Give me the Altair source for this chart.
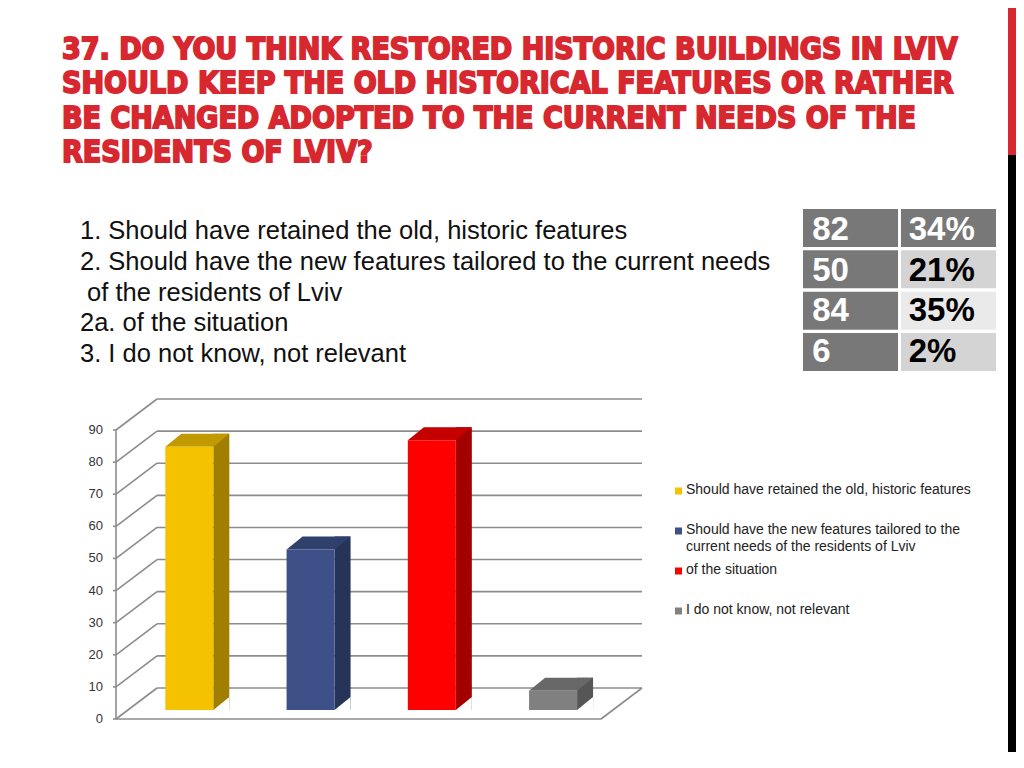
import altair as alt
import pandas as pd

# ---------------- data ----------------
categories = [
    "Should have retained the old, historic features",
    "Should have the new features tailored to the current needs of the residents of Lviv",
    "of the situation",
    "I do not know, not relevant",
]
legend_labels = [
    "Should have retained the old, historic features",
    "Should have the new features tailored to the\ncurrent needs of the residents of Lviv",
    "of the situation",
    "I do not know, not relevant",
]
counts = [82, 50, 84, 6]
percents = ["34%", "21%", "35%", "2%"]
y_ticks = [0, 10, 20, 30, 40, 50, 60, 70, 80, 90]

title_lines = [
    "37. DO YOU THINK RESTORED HISTORIC BUILDINGS IN LVIV",
    "SHOULD KEEP THE OLD HISTORICAL FEATURES OR RATHER",
    "BE CHANGED ADOPTED TO THE CURRENT NEEDS OF THE",
    "RESIDENTS OF LVIV?",
]
intro_lines = [
    "1. Should have retained the old, historic features",
    "2. Should have the new features tailored to the current needs",
    "\u200b\u00a0of the residents of Lviv",
    "2a. of the situation",
    "3. I do not know, not relevant",
]

# ---------------- styles ----------------
front_colors = ["#F5C200", "#3D5087", "#FF0000", "#808080"]
side_colors = ["#A07E00", "#263457", "#A30000", "#565656"]
top_colors = ["#C09A00", "#2F406C", "#C40000", "#686868"]
RED = "#D7282F"
GRID = "#8C8C8C"

W, H = 1008, 744
DX, DY = 41, -31          # depth of the floor / walls
BX, BY = 12.7, -9         # bar placement inside the depth
BD_X, BD_Y = 16, -13      # bar depth

df = pd.DataFrame({"cat": categories, "value": counts})
ticks = pd.DataFrame({"v": y_ticks})

XB = alt.Scale(domain=categories, range=[108, 593], paddingInner=0, paddingOuter=0)
XC = alt.Scale(domain=[0, 4], range=[108, 593], nice=False, zero=False)
YS = alt.Scale(domain=[0, 90], range=[711, 422], nice=False, zero=False)

def cscale(colors):
    return alt.Color("cat:N", scale=alt.Scale(domain=categories, range=colors), legend=None)

# ---------------- 3D frame ----------------
back_lines = alt.Chart(ticks).mark_rule(color=GRID, strokeWidth=1.6, xOffset=DX, x2Offset=DX, yOffset=DY).encode(
    x=alt.X(datum=0, scale=XC, axis=None), x2=alt.X2(datum=4), y=alt.Y("v:Q", scale=YS, axis=None))
side_lines = alt.Chart(ticks).mark_rule(color=GRID, strokeWidth=1.6, x2Offset=DX, y2Offset=DY).encode(
    x=alt.X(datum=0, scale=XC, axis=None), x2=alt.X2(datum=0),
    y=alt.Y("v:Q", scale=YS, axis=None), y2=alt.Y2("v:Q"))
tick_marks = alt.Chart(ticks).mark_rule(color=GRID, strokeWidth=1.6, xOffset=-3).encode(
    x=alt.X(datum=0, scale=XC, axis=None), x2=alt.X2(datum=0), y=alt.Y("v:Q", scale=YS, axis=None))
front_axis = alt.Chart(ticks).mark_rule(color=GRID, strokeWidth=1.6).encode(
    x=alt.X(datum=0, scale=XC, axis=None), y=alt.Y("min(v):Q", scale=YS, axis=None), y2=alt.Y2("max(v):Q"))
floor_front = alt.Chart(ticks).transform_filter("datum.v == 0").mark_rule(color=GRID, strokeWidth=1.6).encode(
    x=alt.X(datum=0, scale=XC, axis=None), x2=alt.X2(datum=4), y=alt.Y("v:Q", scale=YS, axis=None))
floor_right = alt.Chart(ticks).transform_filter("datum.v == 0").mark_rule(
    color=GRID, strokeWidth=1.6, x2Offset=DX, y2Offset=DY).encode(
    x=alt.X(datum=4, scale=XC, axis=None), x2=alt.X2(datum=4),
    y=alt.Y("v:Q", scale=YS, axis=None), y2=alt.Y2("v:Q"))
tick_labels = alt.Chart(ticks).mark_text(align="right", baseline="middle", fontSize=13,
                                         font="Liberation Sans", color="#333333").encode(
    x=alt.value(95), y=alt.Y("v:Q", scale=YS, axis=None), text=alt.Text("v:Q"))

# ---------------- 3D bars ----------------
bar_side = alt.Chart(df).mark_bar(size=BD_X, xOffset=BX + 24 + BD_X / 2, yOffset=BY + BD_Y, y2Offset=BY).encode(
    x=alt.X("cat:N", scale=XB, axis=None), y=alt.Y("value:Q", scale=YS, axis=None), y2=alt.Y2(datum=0),
    color=cscale(side_colors))
tri_path = "M 0 0 L 1 0 L 1 -0.8125 Z"
bar_corner = alt.Chart(df).mark_point(shape=tri_path, size=(2 * BD_X) ** 2, filled=True, opacity=1,
                                      color="white", strokeWidth=0, xOffset=BX + 24, yOffset=BY).encode(
    x=alt.X("cat:N", scale=XB, axis=None), y=alt.Y(datum=0, scale=YS, axis=None))
top_path = "M -1 0 L 1 0 L 1.6667 -0.5417 L -0.3333 -0.5417 Z"
bar_top = alt.Chart(df).mark_point(shape=top_path, size=48 ** 2, filled=True, opacity=1, strokeWidth=0,
                                   xOffset=BX, yOffset=BY).encode(
    x=alt.X("cat:N", scale=XB, axis=None), y=alt.Y("value:Q", scale=YS, axis=None),
    color=cscale(top_colors))
bar_front = alt.Chart(df).mark_bar(size=48, xOffset=BX, yOffset=BY, y2Offset=BY).encode(
    x=alt.X("cat:N", scale=XB, axis=None), y=alt.Y("value:Q", scale=YS, axis=None), y2=alt.Y2(datum=0),
    color=cscale(front_colors))

# ---------------- legend ----------------
leg_df = pd.DataFrame({"cat": categories, "label": legend_labels})
YL = alt.Scale(domain=categories, range=[463, 623], paddingInner=0, paddingOuter=0)
leg_sq = alt.Chart(leg_df).mark_square(size=49, opacity=1, filled=True).encode(
    x=alt.value(670.5), y=alt.Y("cat:N", scale=YL, axis=None), color=cscale(front_colors))
leg_tx = alt.Chart(leg_df).mark_text(align="left", baseline="top", dy=-8, fontSize=14, lineBreak="\n",
                                     lineHeight=17, font="Liberation Sans", color="#222222").encode(
    x=alt.value(678), y=alt.Y("cat:N", scale=YL, axis=None), text="label:N")

# ---------------- table ----------------
rows = []
for i, (c, p) in enumerate(zip(counts, percents)):
    rows.append({"row": i, "col": 0, "txt": str(c)})
    rows.append({"row": i, "col": 1, "txt": p})
tab = pd.DataFrame(rows)
XT = alt.Scale(domain=[0, 1], range=[795, 988], paddingInner=0.03, paddingOuter=0)
YT = alt.Scale(domain=[0, 1, 2, 3], range=[201, 363], paddingInner=0.08, paddingOuter=0)
tab_base = alt.Chart(tab).transform_calculate(
    fill="(datum.col == 0 || datum.row == 0) ? '#787878' : (datum.row == 2 ? '#EAEAEA' : '#D4D4D4')",
    ink="(datum.col == 0 || datum.row == 0) ? '#FFFFFF' : '#000000'",
)
tab_cells = tab_base.mark_rect().encode(
    x=alt.X("col:O", scale=XT, axis=None), y=alt.Y("row:O", scale=YT, axis=None),
    fill=alt.Fill("fill:N", scale=None))
tab_text = tab_base.mark_text(align="left", baseline="middle", dx=-39, dy=1, fontSize=33, fontWeight="bold",
                              font="Liberation Sans").encode(
    x=alt.X("col:O", scale=XT, axis=None), y=alt.Y("row:O", scale=YT, axis=None),
    text="txt:N", color=alt.Color("ink:N", scale=None))

# ---------------- texts & decoration ----------------
one = alt.Data(values=[{}])
title = alt.Chart(one).mark_text(
    text=title_lines, align="left", baseline="alphabetic",
    font="Liberation Sans Narrow, DejaVu Sans Condensed, Liberation Sans",
    fontSize=30, fontWeight="bold", color=RED, stroke=RED, strokeWidth=1.8, lineHeight=34.3).encode(
    x=alt.value(54), y=alt.value(51))
intro = alt.Chart(one).mark_text(
    text=intro_lines, align="left", baseline="alphabetic", font="Liberation Sans",
    fontSize=25.5, color="#111111", lineHeight=30.8).encode(x=alt.value(72), y=alt.value(231))
strip_red = alt.Chart(one).mark_rect(color=RED).encode(
    x=alt.value(1000), x2=alt.value(1008), y=alt.value(0), y2=alt.value(147))
strip_black = alt.Chart(one).mark_rect(color="#000000").encode(
    x=alt.value(1000), x2=alt.value(1008), y=alt.value(147), y2=alt.value(H))

chart = alt.layer(
    back_lines, side_lines, tick_marks, front_axis, floor_front, floor_right, tick_labels,
    bar_side, bar_corner, bar_top, bar_front,
    leg_sq, leg_tx, tab_cells, tab_text, title, intro, strip_red, strip_black,
).resolve_scale(x="independent", y="independent", color="independent").properties(
    width=W, height=H, padding=0, autosize="none", background="white"
).configure_view(stroke=None)

chart.save("out.html", embed_options={"renderer": "svg", "actions": False})
